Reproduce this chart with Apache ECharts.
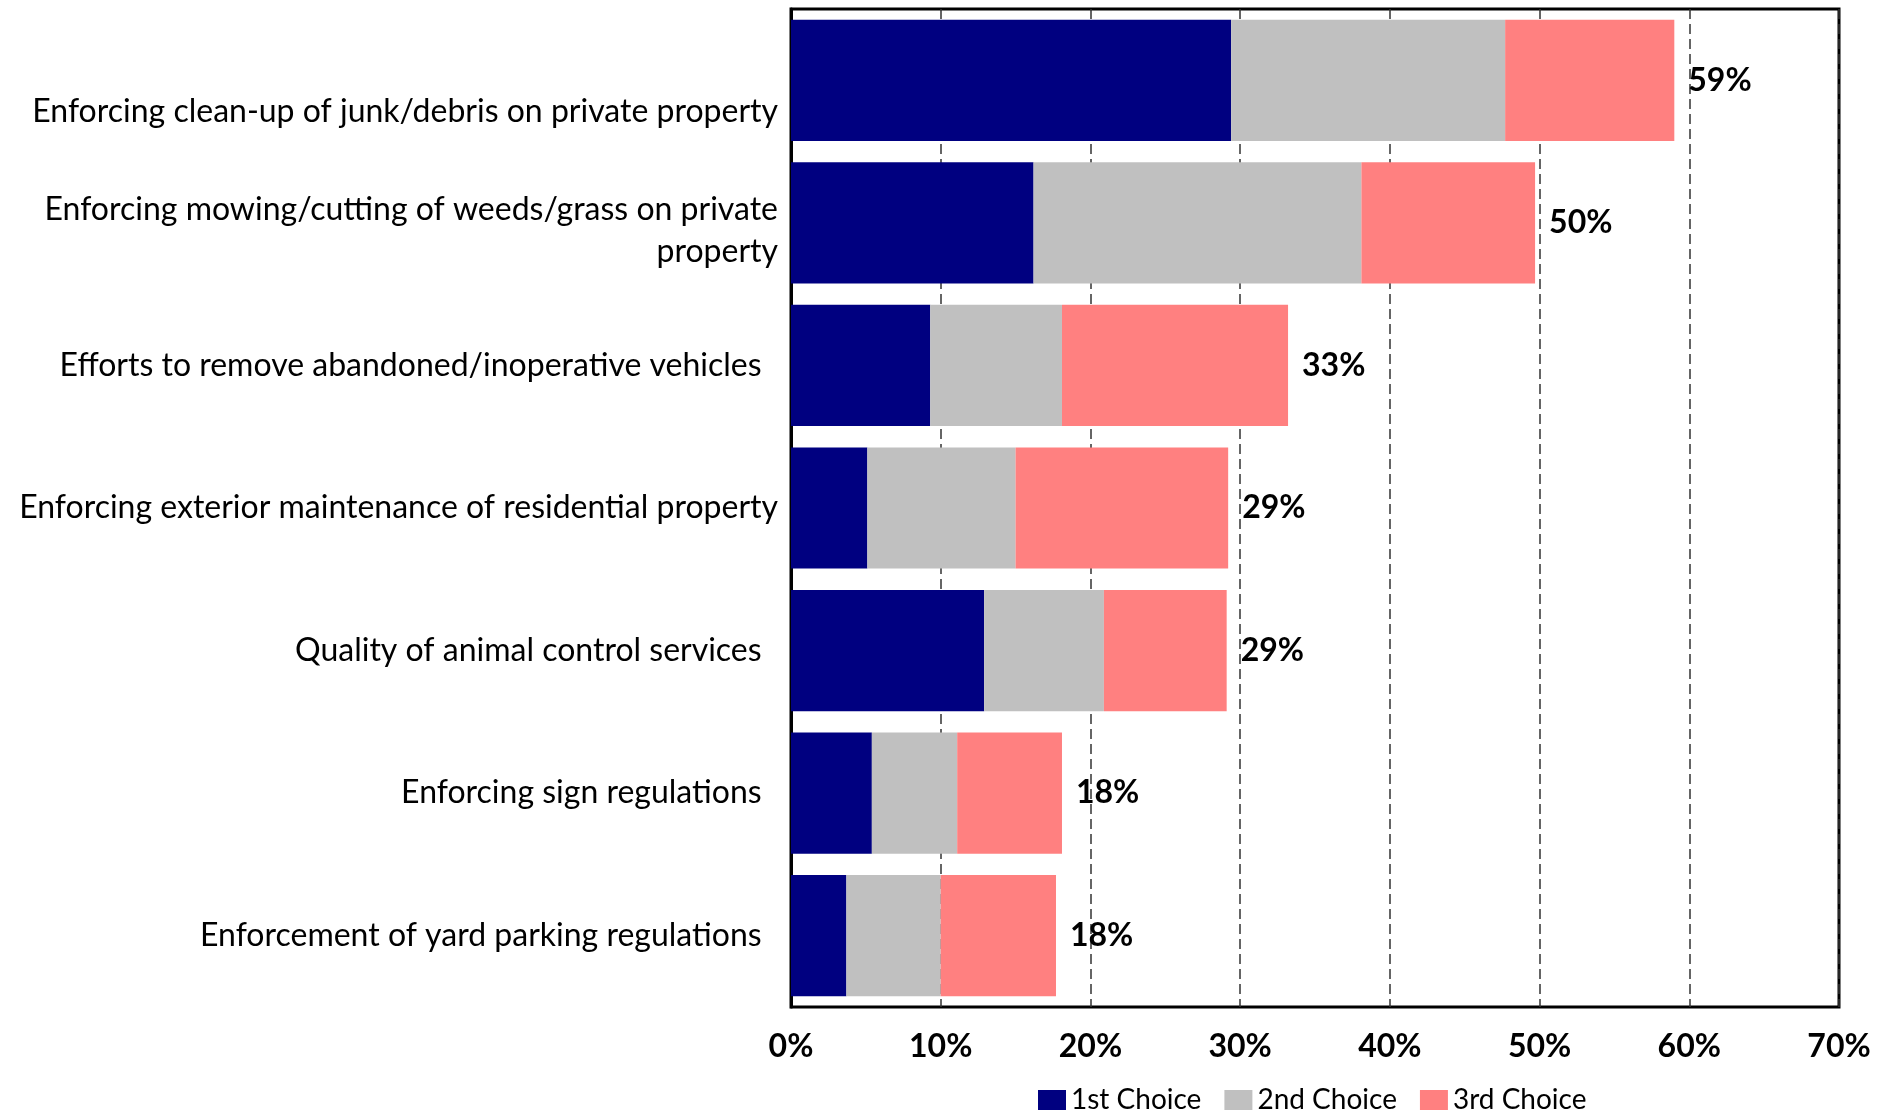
<!DOCTYPE html>
<html>
<head>
<meta charset="utf-8">
<title>Code enforcement priorities</title>
<script src="https://cdn.jsdelivr.net/npm/echarts@6/dist/echarts.min.js"></script>
<style>
  html, body { margin: 0; padding: 0; background: #fff; }
  #chart { width: 1891px; height: 1111px; }
</style>
</head>
<body>
<div id="chart"></div>
<script>
// Items rated (top to bottom)
const categories = [
  'Enforcing clean-up of junk/debris on private property',
  'Enforcing mowing/cutting of weeds/grass on private\nproperty',
  'Efforts to remove abandoned/inoperative vehicles  ',
  'Enforcing exterior maintenance of residential property',
  'Quality of animal control services  ',
  'Enforcing sign regulations  ',
  'Enforcement of yard parking regulations  '
];

// Share of respondents (%) choosing each item as 1st, 2nd or 3rd choice
const firstChoice  = [29.4, 16.2, 9.3, 5.1, 12.9, 5.4, 3.7];
const secondChoice = [18.3, 21.9, 8.8, 9.9, 8.0, 5.7, 6.3];
const thirdChoice  = [11.3, 11.6, 15.1, 14.2, 8.2, 7.0, 7.7];

const seriesNames = ['1st Choice', '2nd Choice', '3rd Choice'];
const xTicks = { min: 0, max: 70, step: 10 };

const totals = categories.map((_, i) => firstChoice[i] + secondChoice[i] + thirdChoice[i]);

const FONT = 'Lato, "Open Sans", sans-serif';
const LABEL_SIZE = 32;
const LABEL_LINE = 42;

// Some category labels sit a little below their bar's centre line.
// With a fixed lineHeight, a token's top padding moves its text down
// by half the padding while the line boxes stay where they are.
const labelDrop = { 0: 31, 1: 8 };

const rich = {
  p: { fontFamily: FONT, fontSize: LABEL_SIZE, color: '#000', lineHeight: LABEL_LINE }
};
Object.keys(labelDrop).forEach((k) => {
  rich['d' + k] = Object.assign({}, rich.p, { padding: [labelDrop[k] * 2, 0, 0, 0] });
});

function categoryLabel(value, index) {
  const style = labelDrop[index] !== undefined ? 'd' + index : 'p';
  return String(value).split('\n').map((line) => '{' + style + '|' + line + '}').join('\n');
}

const chart = echarts.init(document.getElementById('chart'), null, { renderer: 'canvas' });

chart.setOption({
  animation: false,
  backgroundColor: '#ffffff',
  textStyle: { fontFamily: FONT, color: '#000' },
  grid: {
    left: 791, right: 52, top: 9, bottom: 104,
    show: true,
    borderColor: '#000',
    borderWidth: 3,
    backgroundColor: 'transparent'
  },
  legend: {
    data: seriesNames,
    left: 1033,
    top: 1081,
    icon: 'rect',
    itemWidth: 28,
    itemHeight: 20,
    itemGap: 23,
    textStyle: { fontFamily: FONT, fontSize: 28, color: '#000' }
  },
  xAxis: {
    type: 'value',
    min: xTicks.min,
    max: xTicks.max,
    interval: xTicks.step,
    axisLine: { show: false },
    axisTick: { show: false },
    axisLabel: {
      formatter: '{value}%',
      fontFamily: FONT,
      fontSize: 32,
      fontWeight: 'bold',
      color: '#000',
      margin: 24
    },
    splitLine: {
      show: true,
      lineStyle: { color: '#333', width: 1.5, type: [10, 5] }
    }
  },
  yAxis: {
    type: 'category',
    inverse: true,
    data: categories,
    axisLine: { show: true, lineStyle: { color: '#000', width: 3 } },
    axisTick: { show: false },
    axisLabel: {
      fontFamily: FONT,
      fontSize: LABEL_SIZE,
      color: '#000',
      lineHeight: LABEL_LINE,
      margin: 13,
      align: 'right',
      formatter: categoryLabel,
      rich: rich
    }
  },
  series: [
    {
      name: seriesNames[0],
      type: 'bar',
      stack: 'choice',
      barCategoryGap: '15%',
      itemStyle: { color: '#000080' },
      data: firstChoice
    },
    {
      name: seriesNames[1],
      type: 'bar',
      stack: 'choice',
      barCategoryGap: '15%',
      itemStyle: { color: '#C0C0C0' },
      data: secondChoice
    },
    {
      name: seriesNames[2],
      type: 'bar',
      stack: 'choice',
      barCategoryGap: '15%',
      itemStyle: { color: '#FF8080' },
      data: thirdChoice,
      label: {
        show: true,
        position: 'right',
        distance: 14,
        fontFamily: FONT,
        fontSize: 32,
        fontWeight: 'bold',
        color: '#000',
        formatter: (p) => Math.round(totals[p.dataIndex]) + '%'
      }
    }
  ]
});
</script>
</body>
</html>
